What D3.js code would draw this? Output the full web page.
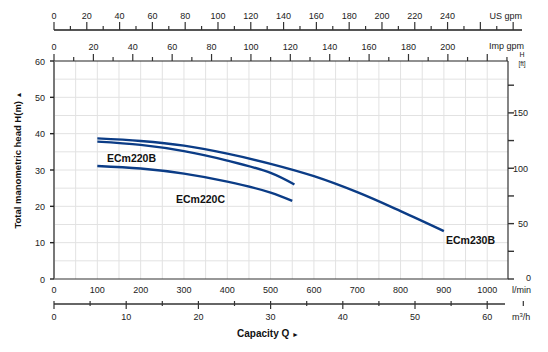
<!DOCTYPE html>
<html lang="en">
<head>
<meta charset="UTF-8">
<script src="https://cdn.jsdelivr.net/npm/d3@7"></script>
<style>
  body { margin: 0; background: #fff; }
  svg { font-family: "Liberation Sans", Arial, sans-serif; }
</style>
</head>
<body>
<div id="fig"></div>
<script>
    const width = 548, height = 352;

    // flow in l/min, head in m
    const flowLabels = [0,100,200,300,400,500,600,700,800,900,1000];
    const headLabels = [0,10,20,30,40,50,60];
    const ftTicks = [0,25,50,75,100,125,150,175];
    const ftLabels = [0,50,100,150];
    const usGpmLabels = [0,20,40,60,80,100,120,140,160,180,200,220,240];
    const impGpmLabels = [0,20,40,60,80,100,120,140,160,180,200];
    const m3hLabels = [0,10,20,30,40,50,60];

    const ecm230B = [[100,38.7],[200,38.0],[300,36.7],[400,34.5],[500,31.7],[600,28.3],[700,23.9],[800,18.7],[900,13.2]];
    const ecm220B = [[100,37.8],[200,36.9],[300,35.2],[400,32.6],[500,29.2],[555,26.0]];
    const ecm220C = [[100,31.1],[200,30.4],[300,29.0],[400,26.8],[500,23.8],[550,21.5]];

    const curves = [
        {name:"ECm230B", pts:ecm230B, lx:446, ly:244},
        {name:"ECm220B", pts:ecm220B, lx:107, ly:162},
        {name:"ECm220C", pts:ecm220C, lx:176, ly:203}
    ];

    const pLeft = 54, pRight = 508, pTop = 61, pBottom = 279;
    const qMax = 1048;

    const x = d3.scaleLinear().domain([0,qMax]).range([pLeft,pRight]);
    const y = d3.scaleLinear().domain([0,60]).range([pBottom,pTop]);
    const yFt = d3.scaleLinear().domain([0,60*3.28084]).range([pBottom,pTop]);
    const xUs = d3.scaleLinear().domain([0,qMax/3.7854]).range([pLeft,pRight]);
    const xImp = d3.scaleLinear().domain([0,qMax/4.546]).range([pLeft,pRight]);
    const xM3 = d3.scaleLinear().domain([0,qMax*0.06]).range([pLeft,pRight]);

    const svg = d3.select("#fig").append("svg")
        .attr("width",width).attr("height",height);

    // grid
    const grid = svg.append("g").attr("stroke","#e2e2e2").attr("stroke-width",1);
    grid.selectAll(".vg").data(d3.range(50,qMax,50)).join("line")
        .attr("x1",d=>x(d)).attr("x2",d=>x(d)).attr("y1",pTop).attr("y2",pBottom);
    grid.selectAll(".hg").data(d3.range(5,60,5)).join("line")
        .attr("x1",pLeft).attr("x2",pRight).attr("y1",d=>y(d)).attr("y2",d=>y(d));

    // frame
    svg.append("line").attr("x1",pLeft).attr("x2",pRight).attr("y1",pTop).attr("y2",pTop)
        .attr("stroke","#222").attr("stroke-width",1.2);
    svg.append("line").attr("x1",pRight).attr("x2",pRight).attr("y1",pTop).attr("y2",pBottom)
        .attr("stroke","#333").attr("stroke-width",1.2);
    svg.append("line").attr("x1",pLeft).attr("x2",pRight).attr("y1",pBottom).attr("y2",pBottom)
        .attr("stroke","#333").attr("stroke-width",1.2);
    svg.append("line").attr("x1",pLeft).attr("x2",pLeft).attr("y1",pTop).attr("y2",pBottom)
        .attr("stroke","#777").attr("stroke-width",2);

    const txt = (g) => g.attr("font-size",9).attr("fill","#222");

    // left axis (m)
    svg.selectAll(".lt").data(headLabels).join("line")
        .attr("x1",50).attr("x2",54).attr("y1",d=>y(d)).attr("y2",d=>y(d))
        .attr("stroke","#222").attr("stroke-width",1.4);
    svg.selectAll(".ll").data(headLabels).join("text")
        .attr("x",45).attr("y",d=>y(d)+3.5).attr("text-anchor","end")
        .text(d=>d).call(txt);

    // right axis (ft)
    svg.selectAll(".rt").data(ftTicks).join("line")
        .attr("x1",pRight).attr("x2",pRight+6).attr("y1",d=>yFt(d)).attr("y2",d=>yFt(d))
        .attr("stroke","#333").attr("stroke-width",1.4);
    svg.selectAll(".rl").data(ftLabels).join("text")
        .attr("x",d=>d===0?531:528).attr("y",d=>yFt(d)+(d===0?2:3.5)).attr("text-anchor","end")
        .text(d=>d).call(txt);
    svg.append("text").attr("x",522).attr("y",57).attr("text-anchor","middle")
        .attr("font-size",7).attr("fill","#222").text("H");
    svg.append("text").attr("x",522).attr("y",66).attr("text-anchor","middle")
        .attr("font-size",6.5).attr("fill","#222").text("[ft]");

    // bottom axis (l/min) labels
    svg.selectAll(".bl").data(flowLabels).join("text")
        .attr("x",d=>x(d)).attr("y",293).attr("text-anchor","middle")
        .text(d=>d).call(txt);
    svg.append("text").attr("x",512).attr("y",293).text("l/min").call(txt);

    // m3/h axis
    const m3y = 304;
    svg.append("line").attr("x1",pLeft).attr("x2",505).attr("y1",m3y).attr("y2",m3y)
        .attr("stroke","#666").attr("stroke-width",2);
    svg.selectAll(".mt").data(d3.range(0,66,5)).join("line")
        .attr("x1",d=>xM3(d)).attr("x2",d=>xM3(d))
        .attr("y1",m3y-3).attr("y2",d=>d%10===0?m3y+5:m3y+2)
        .attr("stroke","#333").attr("stroke-width",1.2);
    svg.selectAll(".ml").data(m3hLabels).join("text")
        .attr("x",d=>xM3(d)).attr("y",320).attr("text-anchor","middle")
        .text(d=>d).call(txt);
    const m3 = svg.append("text").attr("x",512).attr("y",320).call(txt);
    m3.append("tspan").text("m");
    m3.append("tspan").attr("dy",-3).attr("font-size",6).text("3");
    m3.append("tspan").attr("dy",3).text("/h");

    // US gpm axis
    const usY = 30;
    svg.append("line").attr("x1",pLeft).attr("x2",522).attr("y1",usY).attr("y2",usY)
        .attr("stroke","#555").attr("stroke-width",2);
    svg.selectAll(".ut").data(d3.range(0,290,10)).join("line")
        .attr("x1",d=>xUs(d)).attr("x2",d=>xUs(d))
        .attr("y1",d=>d%20===0?usY-8:usY-4).attr("y2",usY)
        .attr("stroke","#333").attr("stroke-width",1.2);
    svg.selectAll(".ul").data(usGpmLabels).join("text")
        .attr("x",d=>xUs(d)).attr("y",19).attr("text-anchor","middle")
        .text(d=>d).call(txt);
    svg.append("text").attr("x",522).attr("y",19).attr("text-anchor","end")
        .text("US gpm").call(txt);

    // Imp gpm axis
    svg.selectAll(".it").data(d3.range(0,231,10)).join("line")
        .attr("x1",d=>xImp(d)).attr("x2",d=>xImp(d))
        .attr("y1",d=>d%20===0?pTop-7:pTop-4).attr("y2",pTop)
        .attr("stroke","#333").attr("stroke-width",1.2);
    svg.selectAll(".il").data(impGpmLabels).join("text")
        .attr("x",d=>xImp(d)).attr("y",50).attr("text-anchor","middle")
        .text(d=>d).call(txt);
    svg.append("text").attr("x",524).attr("y",49).attr("text-anchor","end")
        .text("Imp gpm").call(txt);

    // titles
    const cap = svg.append("text").attr("x",268).attr("y",337).attr("text-anchor","middle")
        .attr("font-size",10).attr("font-weight","bold").attr("fill","#111");
    cap.append("tspan").text("Capacity Q  ");
    cap.append("tspan").attr("font-size",7).text("►");

    const yt = svg.append("text").attr("transform","translate(21,160) rotate(-90)")
        .attr("text-anchor","middle").attr("font-size",9.5).attr("font-weight","bold").attr("fill","#111");
    yt.append("tspan").text("Total manometric head H(m)  ");
    yt.append("tspan").attr("font-size",7).text("▲");

    // curves
    const line = d3.line().x(d=>x(d[0])).y(d=>y(d[1])).curve(d3.curveCatmullRom);
    svg.selectAll(".curve").data(curves).join("path")
        .attr("class","curve")
        .attr("d",d=>line(d.pts))
        .attr("fill","none").attr("stroke","#0b3c86").attr("stroke-width",2.4);
    svg.selectAll(".clabel").data(curves).join("text")
        .attr("x",d=>d.lx).attr("y",d=>d.ly)
        .attr("font-size",10.5).attr("font-weight","bold").attr("fill","#111")
        .text(d=>d.name);
</script>
</body>
</html>
